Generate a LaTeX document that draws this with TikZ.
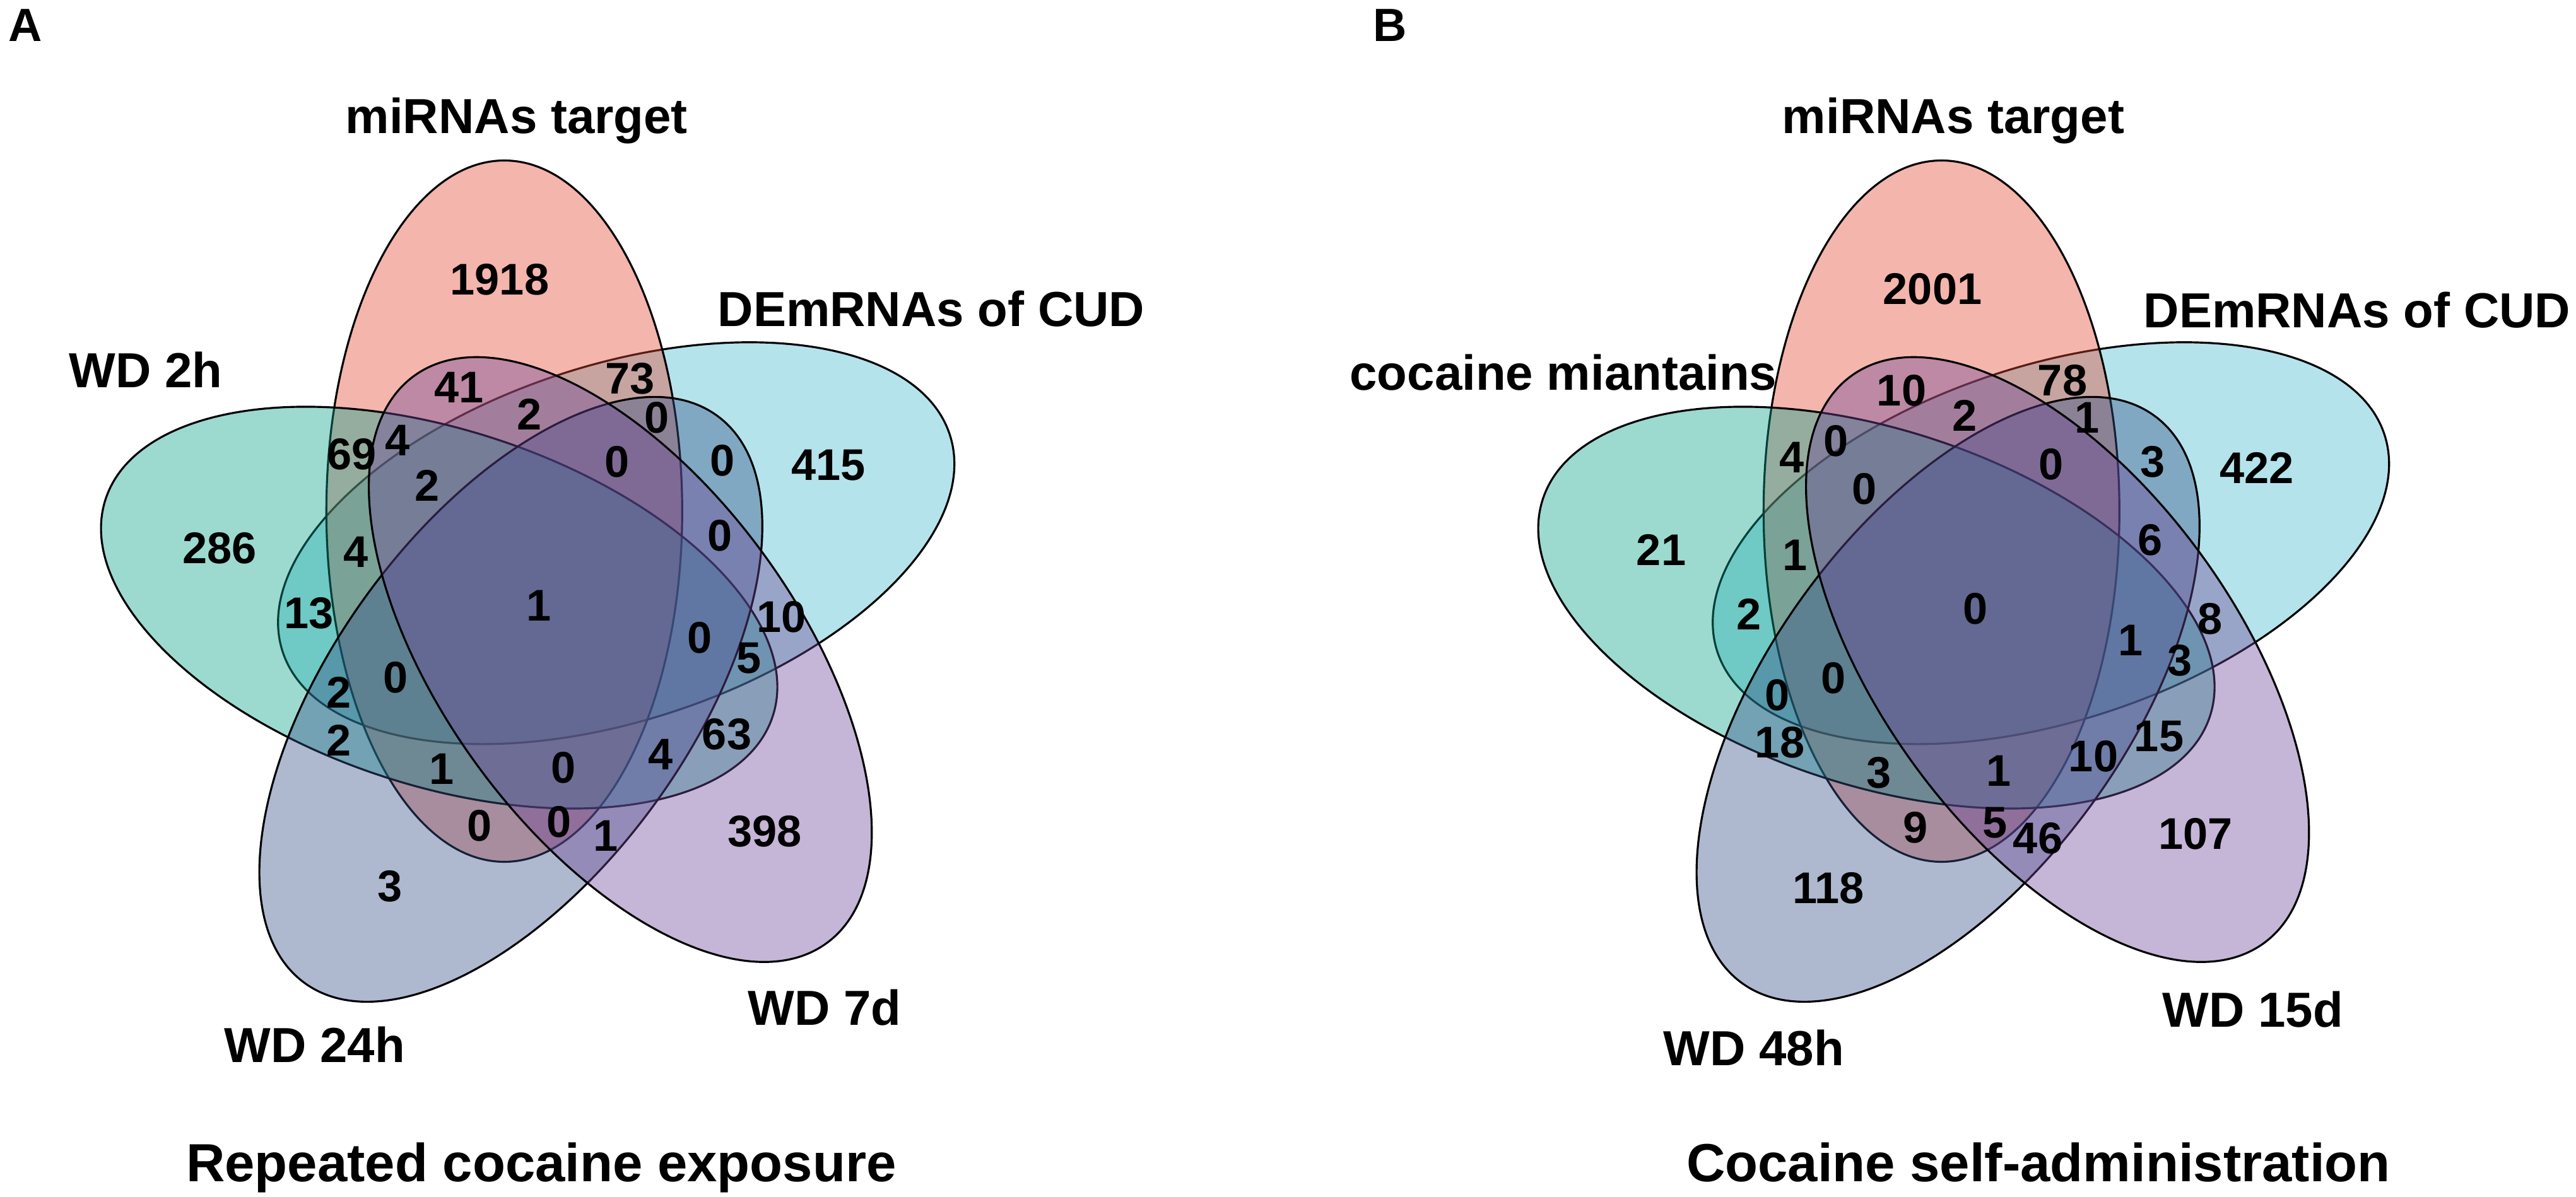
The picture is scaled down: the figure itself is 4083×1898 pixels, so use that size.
\documentclass[tikz,border=0pt]{standalone}
\usepackage{fontspec}
\setmainfont{Liberation Sans}
\definecolor{setcyan}{RGB}{70,185,205}
\definecolor{setpink}{RGB}{227,70,48}
\definecolor{setteal}{RGB}{7,162,138}
\definecolor{setblue}{RGB}{52,80,135}
\definecolor{setpurple}{RGB}{110,70,152}
\tikzset{
  venn/.style={draw=black,line width=0.9pt,fill opacity=0.4},
  num/.style={font=\fontsize{20}{24}\selectfont\bfseries,inner sep=0pt},
  setlabel/.style={font=\fontsize{22.2}{26}\selectfont\bfseries,anchor=base,inner sep=0pt},
  paneltitle/.style={font=\fontsize{24.2}{28}\selectfont\bfseries,anchor=base,inner sep=0pt},
  panelletter/.style={font=\fontsize{21}{24}\selectfont\bfseries,anchor=base,inner sep=0pt}
}
\begin{document}
\begin{tikzpicture}[x=0.01cm,y=-0.01cm]
\useasboundingbox (0,0) rectangle (4083,1898);

\filldraw[venn,fill=setcyan,rotate around={18:(976.7,861.3)}] (976.7,861.3) ellipse [x radius=556,y radius=282];
\filldraw[venn,fill=setpink,rotate around={90:(799.3,810.5)}] (799.3,810.5) ellipse [x radius=556,y radius=282];
\filldraw[venn,fill=setteal,rotate around={162:(696.1,963.5)}] (696.1,963.5) ellipse [x radius=556,y radius=282];
\filldraw[venn,fill=setblue,rotate around={-126:(809.7,1108.9)}] (809.7,1108.9) ellipse [x radius=556,y radius=282];
\filldraw[venn,fill=setpurple,rotate around={-54:(983.2,1045.8)}] (983.2,1045.8) ellipse [x radius=556,y radius=282];

\filldraw[venn,fill=setcyan,rotate around={18:(3250.7,861.3)}] (3250.7,861.3) ellipse [x radius=556,y radius=282];
\filldraw[venn,fill=setpink,rotate around={90:(3077.3,810.5)}] (3077.3,810.5) ellipse [x radius=556,y radius=282];
\filldraw[venn,fill=setteal,rotate around={162:(2974.1,963.5)}] (2974.1,963.5) ellipse [x radius=556,y radius=282];
\filldraw[venn,fill=setblue,rotate around={-126:(3087.7,1108.9)}] (3087.7,1108.9) ellipse [x radius=556,y radius=282];
\filldraw[venn,fill=setpurple,rotate around={-54:(3261.2,1045.8)}] (3261.2,1045.8) ellipse [x radius=556,y radius=282];

\node (letterA) [panelletter] at (40,66) {A};
\node (mirnaA) [setlabel] at (819,212) {miRNAs target};
\node (cudA) [setlabel] at (1476,518) {DEmRNAs of CUD};
\node (wdtwoh) [setlabel] at (231,615) {WD 2h};
\node (wdtwentyfourh) [setlabel] at (499,1685) {WD 24h};
\node (wdsevend) [setlabel] at (1307,1625) {WD 7d};
\node (titleA) [paneltitle] at (858,1873) {Repeated cocaine exposure};

\node (na1) [num] at (792,443) {1918};
\node (na2) [num] at (999,600) {73};
\node (na3) [num] at (728,614) {41};
\node (na4) [num] at (839,657) {2};
\node (na5) [num] at (1041,662) {0};
\node (na6) [num] at (558,720) {69};
\node (na7) [num] at (630,698) {4};
\node (na8) [num] at (978,732) {0};
\node (na9) [num] at (1145,730) {0};
\node (na10) [num] at (1313,738) {415};
\node (na11) [num] at (677,770) {2};
\node (na12) [num] at (348,869) {286};
\node (na13) [num] at (564,875) {4};
\node (na14) [num] at (1141,849) {0};
\node (na15) [num] at (854,960) {1};
\node (na16) [num] at (490,972) {13};
\node (na17) [num] at (1239,978) {10};
\node (na18) [num] at (1109,1011) {0};
\node (na19) [num] at (1187,1044) {5};
\node (na20) [num] at (627,1074) {0};
\node (na21) [num] at (537,1098) {2};
\node (na22) [num] at (537,1174) {2};
\node (na23) [num] at (1152,1164) {63};
\node (na24) [num] at (1047,1196) {4};
\node (na25) [num] at (700,1219) {1};
\node (na26) [num] at (893,1217) {0};
\node (na27) [num] at (760,1309) {0};
\node (na28) [num] at (886,1303) {0};
\node (na29) [num] at (960,1325) {1};
\node (na30) [num] at (1212,1318) {398};
\node (na31) [num] at (618,1405) {3};

\node (letterB) [panelletter] at (2203,66) {B};
\node (mirnaB) [setlabel] at (3096,212) {miRNAs target};
\node (cudB) [setlabel] at (3736,520) {DEmRNAs of CUD};
\node (maintain) [setlabel] at (2478,619) {cocaine miantains};
\node (wdfortyeighth) [setlabel] at (2780,1689) {WD 48h};
\node (wdfifteend) [setlabel] at (3571,1628) {WD 15d};
\node (titleB) [paneltitle] at (3231,1873) {Cocaine self-administration};

\node (nb1) [num] at (3063,458) {2001};
\node (nb2) [num] at (3269,603) {78};
\node (nb3) [num] at (3014,619) {10};
\node (nb4) [num] at (3114,659) {2};
\node (nb5) [num] at (3308,662) {1};
\node (nb6) [num] at (2840,725) {4};
\node (nb7) [num] at (2910,699) {0};
\node (nb8) [num] at (3251,736) {0};
\node (nb9) [num] at (3412,732) {3};
\node (nb10) [num] at (3577,742) {422};
\node (nb11) [num] at (2955,775) {0};
\node (nb12) [num] at (2633,872) {21};
\node (nb13) [num] at (2845,880) {1};
\node (nb14) [num] at (3408,856) {6};
\node (nb15) [num] at (3131,965) {0};
\node (nb16) [num] at (2772,974) {2};
\node (nb17) [num] at (3503,981) {8};
\node (nb18) [num] at (3377,1015) {1};
\node (nb19) [num] at (3455,1047) {3};
\node (nb20) [num] at (2906,1075) {0};
\node (nb21) [num] at (2817,1102) {0};
\node (nb22) [num] at (2821,1177) {18};
\node (nb23) [num] at (3422,1168) {15};
\node (nb24) [num] at (3318,1199) {10};
\node (nb25) [num] at (2978,1225) {3};
\node (nb26) [num] at (3168,1222) {1};
\node (nb27) [num] at (3036,1312) {9};
\node (nb28) [num] at (3162,1305) {5};
\node (nb29) [num] at (3230,1329) {46};
\node (nb30) [num] at (3480,1322) {107};
\node (nb31) [num] at (2898,1408) {118};

\end{tikzpicture}
\end{document}
